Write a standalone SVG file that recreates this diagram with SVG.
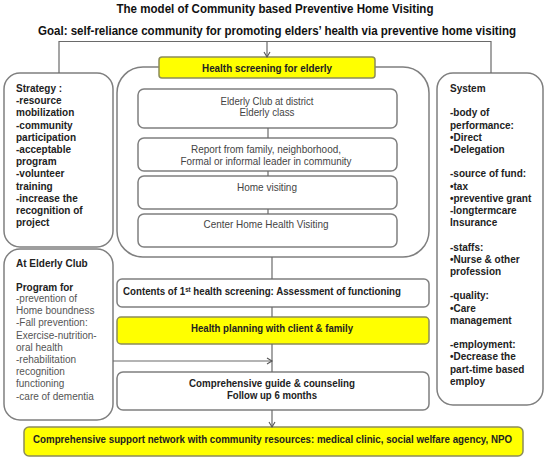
<svg xmlns="http://www.w3.org/2000/svg" width="546" height="458" viewBox="0 0 546 458">
<defs>
<style>
.box{fill:#fff;stroke:#7f7f7f;stroke-width:1.5}
.yel{fill:#ffff00;stroke:#8c8c5a;stroke-width:1.5}
.con{fill:none;stroke:#6a6a6a;stroke-width:1.2}
.t{font-family:"Liberation Sans",Arial,sans-serif;fill:#222}
.b{font-weight:bold}
.h{font-size:13px;font-weight:bold;fill:#111}
.s{font-size:10px}
.n{font-size:10.5px;fill:#444}
.c{text-anchor:middle}
</style>
<marker id="arr" markerWidth="8" markerHeight="8" refX="6" refY="4" orient="auto" markerUnits="userSpaceOnUse">
<path d="M1,1 L6,4 L1,7" fill="none" stroke="#555" stroke-width="1.1"/>
</marker>
</defs>
<rect width="546" height="458" fill="#fff"/>

<g id="title">
<text class="t h c" x="275" y="13" textLength="317" lengthAdjust="spacingAndGlyphs">The model of Community based Preventive Home Visiting</text>
<text class="t h c" style="font-size:12px" x="277" y="35" textLength="478" lengthAdjust="spacingAndGlyphs">Goal: self-reliance community for promoting elders’ health via preventive home visiting</text>
</g>

<g id="screening-group">
<rect class="box" x="117" y="67" width="312" height="190" rx="26"/>
</g>

<g id="health-screening">
<rect class="yel" x="159" y="57" width="216" height="21" rx="3"/>
<text class="t b c" style="font-size:11px" x="267" y="71.5" textLength="130" lengthAdjust="spacingAndGlyphs">Health screening  for elderly</text>
</g>

<g id="elderly-club-district">
<rect class="box" x="138" y="89" width="259" height="39" rx="6"/>
<text class="t n c" x="267" y="105" textLength="93" lengthAdjust="spacingAndGlyphs">Elderly Club at district</text>
<text class="t n c" x="267" y="116" textLength="55" lengthAdjust="spacingAndGlyphs">Elderly class</text>
</g>

<g id="report">
<rect class="box" x="138" y="138" width="259" height="33" rx="6"/>
<text class="t n c" x="266" y="153" textLength="150" lengthAdjust="spacingAndGlyphs">Report from family, neighborhood,</text>
<text class="t n c" x="266" y="165" textLength="171" lengthAdjust="spacingAndGlyphs">Formal or informal leader in community</text>
</g>

<g id="home-visiting">
<rect class="box" x="138" y="176" width="259" height="33" rx="6"/>
<text class="t n c" x="267" y="191" textLength="60" lengthAdjust="spacingAndGlyphs">Home visiting</text>
</g>

<g id="center-home">
<rect class="box" x="138" y="214" width="259" height="33" rx="6"/>
<text class="t n c" x="266" y="228" textLength="125" lengthAdjust="spacingAndGlyphs">Center Home Health Visiting</text>
</g>

<g id="contents">
<rect class="box" x="117" y="279" width="312" height="28" rx="5"/>
<text class="t b" style="font-size:11px" x="123" y="295" textLength="278" lengthAdjust="spacingAndGlyphs">Contents of 1<tspan baseline-shift="super" style="font-size:7px">st</tspan> health screening: Assessment of functioning</text>
</g>

<g id="health-planning">
<rect class="yel" x="117" y="317" width="312" height="27" rx="4"/>
<text class="t b c" style="font-size:11px" x="272" y="332" textLength="162" lengthAdjust="spacingAndGlyphs">Health planning with client &amp; family</text>
</g>

<g id="guide">
<rect class="box" x="117" y="372" width="312" height="38" rx="6"/>
<text class="t b c" style="font-size:11px" x="272" y="387" textLength="166" lengthAdjust="spacingAndGlyphs">Comprehensive guide &amp; counseling</text>
<text class="t b c" style="font-size:11px" x="272" y="399" textLength="90" lengthAdjust="spacingAndGlyphs">Follow up 6 months</text>
</g>

<g id="support-network">
<rect class="yel" x="24" y="427" width="499" height="29" rx="5"/>
<text class="t b c" style="font-size:10px" x="272.5" y="443" textLength="479" lengthAdjust="spacingAndGlyphs">Comprehensive support network with community resources: medical clinic, social welfare agency, NPO</text>
</g>

<g id="strategy">
<rect class="box" x="4" y="73" width="109" height="174" rx="16"/>
<text class="t s b">
<tspan x="16" y="92">Strategy :</tspan>
<tspan x="16" y="104.2">-resource</tspan>
<tspan x="16" y="116.4">mobilization</tspan>
<tspan x="16" y="128.6">-community</tspan>
<tspan x="16" y="140.8">participation</tspan>
<tspan x="16" y="153">-acceptable</tspan>
<tspan x="16" y="165.2">program</tspan>
<tspan x="16" y="177.4">-volunteer</tspan>
<tspan x="16" y="189.6">training</tspan>
<tspan x="16" y="201.8">-increase the</tspan>
<tspan x="16" y="214">recognition of</tspan>
<tspan x="16" y="226.2">project</tspan>
</text>
</g>

<g id="elderly-club">
<rect class="box" x="4" y="249" width="109" height="171" rx="16"/>
<text class="t s b" x="16" y="267">At Elderly Club</text>
<text class="t s b" x="16" y="291">Program for</text>
<text class="t s" style="fill:#555">
<tspan x="16" y="302">-prevention of</tspan>
<tspan x="16" y="314.2">Home boundness</tspan>
<tspan x="16" y="326.4">-Fall prevention:</tspan>
<tspan x="16" y="338.6">Exercise-nutrition-</tspan>
<tspan x="16" y="350.8">oral health</tspan>
<tspan x="16" y="363">-rehabilitation</tspan>
<tspan x="16" y="375.2">recognition</tspan>
<tspan x="16" y="387.4">functioning</tspan>
<tspan x="16" y="399.6">-care of dementia</tspan>
</text>
</g>

<g id="system">
<rect class="box" x="437" y="73" width="106" height="332" rx="16"/>
<text class="t s b">
<tspan x="450" y="92">System</tspan>
<tspan x="450" y="116.4">-body of</tspan>
<tspan x="450" y="128.6">performance:</tspan>
<tspan x="450" y="140.8">•Direct</tspan>
<tspan x="450" y="153">•Delegation</tspan>
<tspan x="450" y="177.4">-source of fund:</tspan>
<tspan x="450" y="189.6">•tax</tspan>
<tspan x="450" y="201.8">•preventive grant</tspan>
<tspan x="450" y="214">-longtermcare</tspan>
<tspan x="450" y="226.2">Insurance</tspan>
<tspan x="450" y="250.6">-staffs:</tspan>
<tspan x="450" y="262.8">•Nurse &amp; other</tspan>
<tspan x="450" y="275">profession</tspan>
<tspan x="450" y="299.4">-quality:</tspan>
<tspan x="450" y="311.6">•Care</tspan>
<tspan x="450" y="323.8">management</tspan>
<tspan x="450" y="348.2">-employment:</tspan>
<tspan x="450" y="360.4">•Decrease the</tspan>
<tspan x="450" y="372.6">part-time based</tspan>
<tspan x="450" y="384.8">employ</tspan>
</text>
</g>

<g id="connectors">
<path class="con" d="M59,73 V41.5 H491 V73"/>
<path class="con" d="M267,41.5 V57" marker-end="url(#arr)"/>
<path class="con" d="M268,128 V138"/>
<path class="con" d="M268,171 V176"/>
<path class="con" d="M268,209 V214"/>
<path class="con" d="M272,257 V279"/>
<path class="con" d="M272,307 V317"/>
<path class="con" d="M272,344 V372"/>
<path class="con" d="M113,361 H272" marker-end="url(#arr)"/>
<path class="con" d="M272,410 V427" marker-end="url(#arr)"/>
</g>
</svg>
